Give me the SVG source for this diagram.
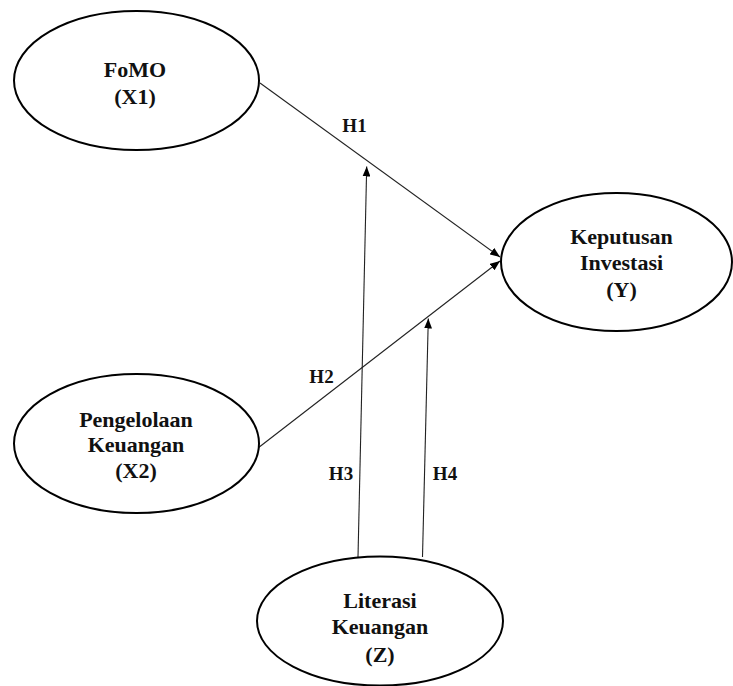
<svg xmlns="http://www.w3.org/2000/svg" width="733" height="686" viewBox="0 0 733 686">
<style>
.node{fill:#fff;stroke:#000;stroke-width:2}
.t{font-family:"Liberation Serif","Times New Roman",serif;font-weight:bold;font-size:22px;fill:#111;text-anchor:middle}
.h{font-family:"Liberation Serif","Times New Roman",serif;font-weight:bold;font-size:19px;fill:#111;text-anchor:middle}
.c{stroke:#222;stroke-width:1.1;fill:none}
</style>
<defs>
<marker id="arr" viewBox="0 0 10 8" refX="10" refY="4" markerWidth="10" markerHeight="8" markerUnits="userSpaceOnUse" orient="auto">
<path d="M0,0 L10,4 L0,8 Z" fill="#000"/>
</marker>
</defs>
<rect width="733" height="686" fill="#fff"/>
<g id="connectors">
<line class="c" x1="260" y1="83" x2="500" y2="257" marker-end="url(#arr)"/>
<line class="c" x1="258" y1="448" x2="500" y2="261" marker-end="url(#arr)"/>
<line class="c" x1="358" y1="557" x2="366.7" y2="166.5" marker-end="url(#arr)"/>
<line class="c" x1="422.5" y1="557" x2="428.3" y2="318.5" marker-end="url(#arr)"/>
</g>
<g id="labels">
<text class="h" x="354.5" y="132">H1</text>
<text class="h" x="321.5" y="383">H2</text>
<text class="h" x="341" y="480">H3</text>
<text class="h" x="445" y="480">H4</text>
</g>
<g id="fomo">
<ellipse class="node" cx="136.5" cy="80.5" rx="122.5" ry="69.5"/>
<text class="t" x="135" y="77">FoMO</text>
<text class="t" x="135" y="104">(X1)</text>
</g>
<g id="keputusan">
<ellipse class="node" cx="616.5" cy="262" rx="115.5" ry="69"/>
<text class="t" x="621.5" y="244">Keputusan</text>
<text class="t" x="621.5" y="270">Investasi</text>
<text class="t" x="621.5" y="297">(Y)</text>
</g>
<g id="pengelolaan">
<ellipse class="node" cx="136.5" cy="443.5" rx="122.5" ry="69.5"/>
<text class="t" x="136" y="427">Pengelolaan</text>
<text class="t" x="136" y="452">Keuangan</text>
<text class="t" x="136" y="478">(X2)</text>
</g>
<g id="literasi">
<ellipse class="node" cx="380" cy="621" rx="123" ry="64.5"/>
<text class="t" x="380" y="608">Literasi</text>
<text class="t" x="380" y="634">Keuangan</text>
<text class="t" x="380" y="662">(Z)</text>
</g>
</svg>
